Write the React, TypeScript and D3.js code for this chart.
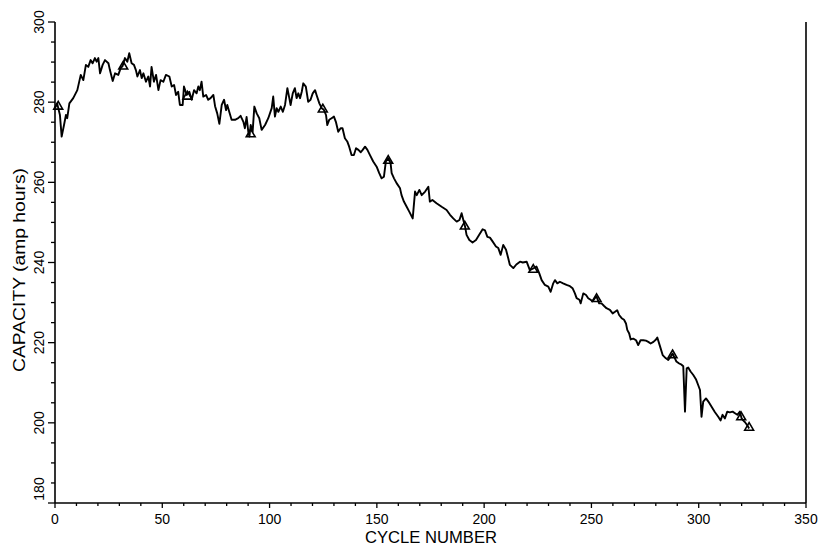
import React from "react";
import * as d3 from "d3";

// capacity vs cycle
const cycleNumber = [
  0, 1, 2.3, 3.1, 4.2, 5.1, 5.7, 6.7, 8.5, 10.4, 12, 13.2, 14.4, 15.5, 16.6, 17.5, 18.6, 19.4, 20.2, 21,
  22.2, 23.3, 24.9, 25.6, 26.9, 28, 29.5, 30.6, 31.5, 32.6, 33.7, 34.6, 35.7, 36.8, 37.7, 38.4, 39.6, 40.4,
  41.2, 42.4, 43.5, 44.3, 45, 46.1, 47.1, 48.2, 49.2, 50.5, 51.7, 53.3, 54.4, 55.5, 56.4, 57.4, 58.2, 59.5,
  60.1, 61.4, 62.6, 63.7, 64.8, 66, 66.8, 67.5, 68.3, 69.1, 70.4, 71.4, 72.5, 73.8, 74.6, 75.6, 76.6, 77.7,
  78.8, 79.7, 80.3, 81.2, 82.3, 83.9, 85.4, 86.5, 87.8, 88.5, 89.3, 90.1, 90.6, 91.2, 92.1, 92.9, 94, 95.2,
  96.3, 97.9, 99.4, 101, 101.7, 102.5, 103.3, 104.1, 105.2, 106.2, 107.2, 108.3, 109.2, 109.8, 110.8, 111.8,
  112.6, 113.4, 114.2, 115, 115.7, 116.9, 118, 119.1, 120.1, 121.2, 121.9, 123.2, 124.3, 125.3, 126.3, 126.9,
  127.8, 128.9, 130, 130.9, 132, 133.1, 134, 135.1, 136.2, 137.1, 138.2, 139.3, 140.3, 141.4, 142.5, 143.4,
  144.5, 145.6, 146.8, 148.3, 149.9, 151.1, 152.2, 153.3, 154.2, 155.3, 156.4, 156.9, 158, 159.2, 160.8,
  161.5, 162.6, 163.9, 165.1, 166.7, 167.8, 168.6, 169.8, 170.9, 172.5, 174, 174.7, 175.9, 177.8, 180.2,
  182.5, 184.1, 185.6, 187.2, 188.5, 189.5, 190.3, 191.1, 191.8, 193.1, 194.6, 196.2, 197.7, 199.3, 200.4,
  201.5, 202.7, 204, 205.5, 206.6, 207.7, 208.9, 210.2, 211.2, 212, 213.6, 215, 216.7, 218, 219.8, 221.3,
  222.9, 224.4, 225.7, 226.8, 228.3, 229.9, 231, 232.2, 233, 234.1, 235.3, 236.8, 238.4, 240, 241.2, 242.3,
  243.1, 244.4, 245, 246.2, 247.5, 248.5, 249.6, 250.5, 251.6, 252.4, 253.6, 254.7, 255.8, 257, 258.6, 259.9,
  261, 262, 262.9, 264.1, 265.2, 266.1, 266.7, 267.6, 268.3, 269.5, 270.8, 271.8, 272.9, 274.2, 275.4, 276.5,
  277.6, 278.9, 280.1, 280.7, 281.9, 283.2, 284.7, 285.8, 286.9, 287.8, 288.9, 289.6, 290.9, 292, 292.8,
  293.6, 294.4, 295.1, 296.2, 297.4, 298.7, 299.7, 300.6, 301.3, 302.1, 303.4, 304.5, 306, 307.5, 309.1,
  310.2, 311.1, 312.2, 313.3, 314.5, 315.8, 316.9, 318, 319.2, 320, 320.7, 321.5, 322.6, 323.5,
];

const capacity = [
  278.5, 279.7, 276.8, 271.4, 274.3, 276.8, 276, 279.7, 281, 283, 286.8, 285.5, 289.3, 288.8, 290.5, 289.7,
  291, 290.1, 291, 287.2, 289.3, 290.5, 289.7, 288, 285.3, 287.2, 286.8, 288.5, 289, 291, 290.1, 292.2,
  289.7, 289.3, 288, 286.4, 288, 286, 287.2, 285.1, 286.4, 283.9, 288.8, 285.1, 286.8, 283, 285.5, 285.1,
  286.8, 286.4, 283.9, 284.3, 281.8, 282.6, 279.3, 279.3, 283.9, 281.8, 282.6, 280.6, 283, 282.2, 283.9, 283,
  285.1, 281.4, 281.8, 280.6, 281, 281.8, 279, 277.2, 274.6, 279.3, 280.6, 278, 279.3, 277.6, 275.6, 275.6,
  276, 276.6, 275.1, 273.5, 276.3, 272.6, 271.4, 274.3, 272.6, 278.9, 277.2, 276, 273.1, 274.3, 276, 278.5,
  281.4, 276.4, 278.5, 277.6, 278.9, 277.6, 279.3, 283.5, 281, 279.3, 282.2, 283.5, 281, 282.2, 281, 282.6,
  284.7, 283.9, 280.1, 280.6, 282.2, 283, 281.8, 279.7, 278.5, 278.1, 276.8, 274.3, 275.6, 276, 276.4, 275.1,
  272.6, 273.5, 273.5, 271, 270.2, 268.9, 266.8, 266.8, 268.5, 268.1, 267.5, 268.1, 268.9, 268.1, 266.8,
  265.2, 263.9, 262.3, 261, 261.4, 265.2, 266, 264.8, 262.3, 261, 259.8, 258.5, 256.8, 255.2, 253.9, 252.7,
  251, 257.7, 256.8, 258.1, 256.8, 257.7, 258.9, 255.2, 255.6, 254.8, 253.9, 253.1, 251.9, 251, 250.2, 250.6,
  252.3, 250.6, 249, 246.9, 245.6, 245, 245.6, 246.9, 248.3, 248, 246.4, 246.2, 245.2, 244, 243.6, 241.9,
  244.4, 243.2, 241.1, 239.4, 238.6, 239.5, 240.2, 240, 240.2, 238.1, 238.5, 239, 237.3, 235.6, 234.4, 234,
  232.7, 234.8, 235.6, 234.8, 235.2, 234.8, 234.4, 234.1, 233.6, 232.3, 231.1, 230.7, 229.8, 232.3, 231.9,
  231.1, 230.7, 230.3, 231.1, 231.5, 229.8, 229.8, 229.2, 228.6, 228.2, 227.3, 227.7, 228.1, 226.9, 226.1,
  225.7, 224.8, 223.2, 222.3, 220.8, 221, 220.6, 219.4, 220.6, 220.6, 220.5, 220.2, 219.8, 220.2, 220.8,
  221.3, 219.2, 216.9, 216.1, 215.7, 216.5, 217.3, 216.1, 215.3, 214.8, 214.5, 214.1, 202.8, 213.6, 213.8,
  212.8, 212, 210.9, 209.5, 208.2, 201.5, 205.3, 206.1, 205.3, 204, 202.7, 201.5, 200.6, 202, 201.1, 202.8,
  202.6, 202.8, 202.4, 202, 202.8, 201.1, 200.6, 200.2, 199.4, 198.6,
];

// open triangle markers
const markerCycle = [1.5, 31.8, 61.7, 91.2, 124.8, 155.3, 191, 222.9, 252.4, 287.8, 319.8, 323.5];
const markerCapacity = [278.9, 288.9, 281.4, 272, 278.2, 265.4, 249, 238.2, 230.9, 216.9, 201.4, 198.8];

const xTickLabels = [0, 50, 100, 150, 200, 250, 300, 350];
const yTickLabels = [180, 200, 220, 240, 260, 280, 300];

const W = 818;
const H = 547;
const left = 55;
const right = 806;
const top = 22;
const bottom = 503;
const font = "'Liberation Sans', Arial, sans-serif";

export default function App() {
  const x = d3.scaleLinear().domain([0, 350]).range([left, right]);
  const y = d3.scaleLinear().domain([180, 300]).range([bottom, top]);

  const pts: [number, number][] = cycleNumber.map((c, i) => [c, capacity[i]]);
  const line = d3
    .line<[number, number]>()
    .x((d) => x(d[0]))
    .y((d) => y(d[1]));

  const tri = d3.symbol().type(d3.symbolTriangle).size(34)();

  const xMinor = d3.range(0, 351, 10);
  const yMinor = d3.range(180, 301, 5);

  return (
    <svg width={W} height={H} style={{ position: "absolute", left: 0, top: 0, background: "#fff" }}>
      {/* frame */}
      <g stroke="#000" strokeWidth={1.6} fill="none">
        <line x1={left} x2={left} y1={top} y2={bottom} />
        <line x1={left} x2={right} y1={bottom} y2={bottom} />
        <line x1={right} x2={right} y1={top} y2={bottom} />
      </g>

      {/* x ticks */}
      <g stroke="#000" strokeWidth={1.3}>
        {xMinor.map((v) => (
          <line key={v} x1={x(v)} x2={x(v)} y1={bottom} y2={bottom + (v % 50 === 0 ? 5 : 3)} />
        ))}
      </g>
      <g fontFamily={font} fontSize={14} textAnchor="middle" fill="#000">
        {xTickLabels.map((v) => (
          <text key={v} x={x(v)} y={524}>
            {v}
          </text>
        ))}
      </g>

      {/* y ticks */}
      <g stroke="#000" strokeWidth={1.3}>
        {yMinor.map((v) => (
          <line key={v} x1={left - (v % 20 === 0 ? 7 : 4)} x2={left} y1={y(v)} y2={y(v)} />
        ))}
      </g>
      <g fontFamily={font} fontSize={14} textAnchor="middle" fill="#000">
        {yTickLabels.map((v) => {
          const yy = v === 180 ? y(v) - 14 : y(v);
          return (
            <text key={v} transform={`translate(44,${yy}) rotate(-90)`}>
              {v}
            </text>
          );
        })}
      </g>

      {/* axis titles */}
      <text
        x={431}
        y={543}
        fontFamily={font}
        fontSize={16}
        textAnchor="middle"
        textLength={132}
        lengthAdjust="spacingAndGlyphs"
      >
        CYCLE NUMBER
      </text>
      <text
        transform="translate(25,270) rotate(-90)"
        fontFamily={font}
        fontSize={16}
        textAnchor="middle"
        textLength={204}
        lengthAdjust="spacingAndGlyphs"
      >
        CAPACITY (amp hours)
      </text>

      {/* data */}
      <path d={line(pts) ?? ""} fill="none" stroke="#000" strokeWidth={1.9} strokeLinejoin="round" />
      <g fill="none" stroke="#000" strokeWidth={1.6}>
        {markerCycle.map((c, i) => (
          <path key={i} d={tri ?? ""} transform={`translate(${x(c)},${y(markerCapacity[i])})`} />
        ))}
      </g>
    </svg>
  );
}
